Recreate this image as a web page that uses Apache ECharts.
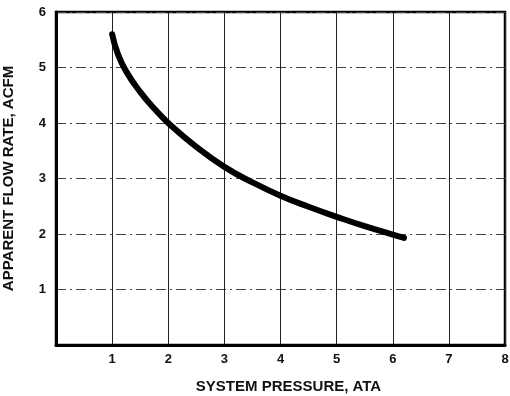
<!DOCTYPE html>
<html>
<head>
<meta charset="utf-8">
<script src="https://cdn.jsdelivr.net/npm/echarts@6/dist/echarts.min.js"></script>
<style>
  html, body { margin: 0; padding: 0; background: #fff; }
  #chart { width: 510px; height: 396px; }
</style>
</head>
<body>
<div id="chart"></div>
<script>
// System pressure (ATA) vs apparent flow rate (ACFM)
var pressure = [1.0, 1.1, 1.25, 1.5, 1.75, 2.0, 2.5, 3.0, 3.5, 4.0, 4.5, 5.0, 5.5, 6.0, 6.2];
var flowRate = [5.6, 5.25, 4.93, 4.56, 4.26, 4.0, 3.57, 3.21, 2.93, 2.69, 2.49, 2.31, 2.14, 1.99, 1.93];
var xTicks = [1, 2, 3, 4, 5, 6, 7, 8];
var yTicks = [1, 2, 3, 4, 5, 6];

var font = '"Liberation Sans", Arial, sans-serif';
var chart = echarts.init(document.getElementById('chart'), null, { renderer: 'canvas' });

chart.setOption({
  animation: false,
  backgroundColor: '#fff',
  grid: {
    left: 56, right: 5, top: 12, bottom: 51,
    containLabel: false, outerBoundsMode: 'none',
    show: true, borderColor: '#000', borderWidth: 2.5, backgroundColor: 'transparent'
  },
  xAxis: {
    type: 'value', min: 0, max: 8, interval: 1,
    name: 'SYSTEM PRESSURE, ATA', nameLocation: 'middle', nameGap: 34,
    nameTextStyle: { fontFamily: font, fontSize: 15, fontWeight: 'bold', color: '#111', padding: [0, 0, 0, 16] },
    axisLine: { show: true, onZero: false, lineStyle: { color: '#000', width: 3 } },
    axisTick: { show: false },
    axisLabel: {
      margin: 8, fontFamily: font, fontSize: 13, fontWeight: 'bold', color: '#111',
      formatter: function (v) { return xTicks.indexOf(v) >= 0 ? String(v) : ''; }
    },
    splitLine: { show: true, lineStyle: { color: '#222', width: 1 } }
  },
  yAxis: {
    type: 'value', min: 0, max: 6, interval: 1,
    name: 'APPARENT FLOW RATE, ACFM', nameLocation: 'middle', nameGap: 40,
    nameTextStyle: { fontFamily: font, fontSize: 15, fontWeight: 'bold', color: '#111' },
    axisLine: { show: true, onZero: false, lineStyle: { color: '#000', width: 3 } },
    axisTick: { show: false },
    axisLabel: {
      margin: 10, fontFamily: font, fontSize: 13, fontWeight: 'bold', color: '#111',
      formatter: function (v) { return yTicks.indexOf(v) >= 0 ? String(v) : ''; }
    },
    splitLine: { show: true, lineStyle: { color: '#444', width: 1, type: [10, 4, 2, 4] } }
  },
  series: [{
    type: 'line',
    data: pressure.map(function (p, i) { return [p, flowRate[i]]; }),
    smooth: 0.5,
    showSymbol: false,
    lineStyle: { color: '#000', width: 6, cap: 'round' }
  }]
});
</script>
</body>
</html>
